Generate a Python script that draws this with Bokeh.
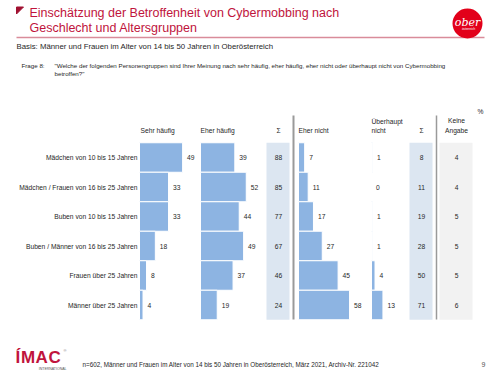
import numpy as np
from bokeh.plotting import figure
from bokeh.models import Range1d
from bokeh.core.properties import value
from bokeh.embed import file_html
from bokeh.resources import INLINE

# ---------------- data ----------------
categories = [
    "Mädchen von 10 bis 15 Jahren",
    "Mädchen / Frauen von 16 bis 25 Jahren",
    "Buben von 10 bis 15 Jahren",
    "Buben / Männer von 16 bis 25 Jahren",
    "Frauen über 25 Jahren",
    "Männer über 25 Jahren",
]
sehr_haeufig = [49, 33, 33, 18, 8, 4]
eher_haeufig = [39, 52, 44, 49, 37, 19]
summe_haeufig = [88, 85, 77, 67, 46, 24]
eher_nicht = [7, 11, 17, 27, 45, 58]
ueberhaupt_nicht = [1, 0, 1, 1, 4, 13]
summe_nicht = [8, 11, 19, 28, 50, 71]
keine_angabe = [4, 4, 5, 5, 5, 6]

title_lines = ["Einschätzung der Betroffenheit von  Cybermobbing nach",
               "Geschlecht und Altersgruppen"]
basis_text = "Basis:  Männer und Frauen im Alter von 14 bis 50 Jahren in Oberösterreich"
frage_label = "Frage 8:"
frage_lines = ["\"Welche der folgenden Personengruppen sind Ihrer Meinung nach sehr häufig, eher häufig, eher nicht oder überhaupt nicht von Cybermobbing",
               "betroffen?\""]
footer_text = "n=602, Männer und Frauen im Alter von  14 bis 50 Jahren in Oberösterreich, März 2021, Archiv-Nr.  221042"
page_no = "9"

# ---------------- layout ----------------
FONT = value("Liberation Sans")
RED = "#C0143C"
BAR = "#8DB4E2"
TXT = "#262626"
W, H = 500, 375
X0, X1 = 0, W          # screen pixel coordinates shown
Y0, Y1 = 0, H
ROW0, ROWH = 157.0, 29.5   # first row centre, row pitch (px)
PXU = 0.88                 # px per percent

p = figure(width=W, height=H, x_range=Range1d(X0, X1), y_range=Range1d(Y1, Y0),
           output_backend="svg", toolbar_location=None, min_border=0,
           x_axis_location=None, y_axis_location=None)
p.xgrid.visible = False
p.ygrid.visible = False
p.outline_line_color = None
p.background_fill_color = "white"
p.border_fill_color = "white"

p.extra_y_ranges = {"rows": Range1d(start=(Y1 - ROW0) / ROWH, end=(Y0 - ROW0) / ROWH)}


def add_col(name, x0):
    p.extra_x_ranges[name] = Range1d(start=(X0 - x0) / PXU, end=(X1 - x0) / PXU)


cols = {"sh": (139, sehr_haeufig), "eh": (200, eher_haeufig),
        "en": (298, eher_nicht), "un": (371, ueberhaupt_nicht)}
for k, (x0, _) in cols.items():
    add_col(k, x0)

idx = np.arange(len(categories))
n = len(categories)

def txt(x, y, t, size="6.7px", align="left", baseline="middle", color=TXT,
        font=FONT, style="normal", **kw):
    p.text(x=x, y=y, text=t, text_font=font, text_font_size=value(size),
           text_align=align, text_baseline=baseline, text_color=color,
           text_font_style=style, **kw)

# ---------------- header area ----------------
p.patch(x=[16, 23, 16], y=[6.5, 6.5, 13.5], color="#A01030")
txt([29, 29], [12, 27], title_lines, size="12.5px", color=RED)
p.segment(x0=[16], y0=[37], x1=[484], y1=[37], line_color="#D98C9A", line_width=1.5)

# ober logo
p.scatter(x=[467], y=[23], size=30, marker="circle", fill_color="#E2001A", line_color=None)
txt([467], [21.5], ["ober"], size="11px", align="center", color="white",
    font=value("DejaVu Serif"), style="italic")
txt([468], [28.5], ["österreich"], size="3px", align="center", color="white")

txt([16], [46], [basis_text], size="7.8px")
txt([21], [65], [frage_label], size="6.2px")
txt([54, 54], [65, 73], frage_lines, size="6.2px")

# ---------------- column headers ----------------
txt([140], [130], ["Sehr häufig"])
txt([200], [130], ["Eher häufig"])
txt([278], [130], ["Σ"], align="center")
txt([298], [130], ["Eher nicht"])
txt([371, 371], [121, 130], ["Überhaupt", "nicht"])
txt([421], [130], ["Σ"], align="center")
txt([456, 456], [120, 129.5], ["Keine", "Angabe"], align="center")
txt([480], [111], ["%"], align="center")

# ---------------- background columns ----------------
p.quad(left=[266], right=[289], top=[-0.5], bottom=[n - 0.5], y_range_name="rows",
       fill_color="#DCE6F1", line_color=None)
p.quad(left=[409], right=[432], top=[-0.5], bottom=[n - 0.5], y_range_name="rows",
       fill_color="#DCE6F1", line_color=None)
p.quad(left=[439], right=[472], top=[-0.5], bottom=[n - 0.5], y_range_name="rows",
       fill_color="#F2F2F2", line_color=None)

# separators
p.segment(x0=[293, 436], y0=[115, 115], x1=[293, 436], y1=[319, 319],
          line_color="#9A9A9A", line_width=[2, 1.5])

# ---------------- bars ----------------
for k, (x0, vals) in cols.items():
    p.hbar(y=idx, left=0, right=vals, height=1.0, x_range_name=k, y_range_name="rows",
           fill_color=BAR, line_color="white", line_width=1)
    labels = [str(v) for v in vals]
    p.text(x=np.array(vals) + 4.5 / PXU, y=idx, text=labels, x_range_name=k,
           y_range_name="rows", text_font=FONT, text_font_size=value("6.7px"),
           text_align="left", text_baseline="middle", text_color=TXT)

# row labels
txt([137] * n, idx, categories, align="right", y_range_name="rows")
# sums and no answer
txt([278] * n, idx, [str(v) for v in summe_haeufig], align="center", y_range_name="rows")
txt([421] * n, idx, [str(v) for v in summe_nicht], align="center", y_range_name="rows")
txt([456] * n, idx, [str(v) for v in keine_angabe], align="center", y_range_name="rows")

# ---------------- footer ----------------
txt([15, 20.5, 35, 48], [357] * 4, ["Í", "M", "A", "C"], size="17px", color=RED,
    style="bold", font=value("Liberation Sans"))
txt([63], [350], ["®"], size="4px", color="#777777")
txt([66], [368], ["INTERNATIONAL"], size="3.5px", color="#555555", align="right")
txt([82], [364], [footer_text], size="6.3px")
txt([483], [364], [page_no], size="7px", align="center", color="#555555")

open("out.html", "w").write(file_html(p, INLINE))
